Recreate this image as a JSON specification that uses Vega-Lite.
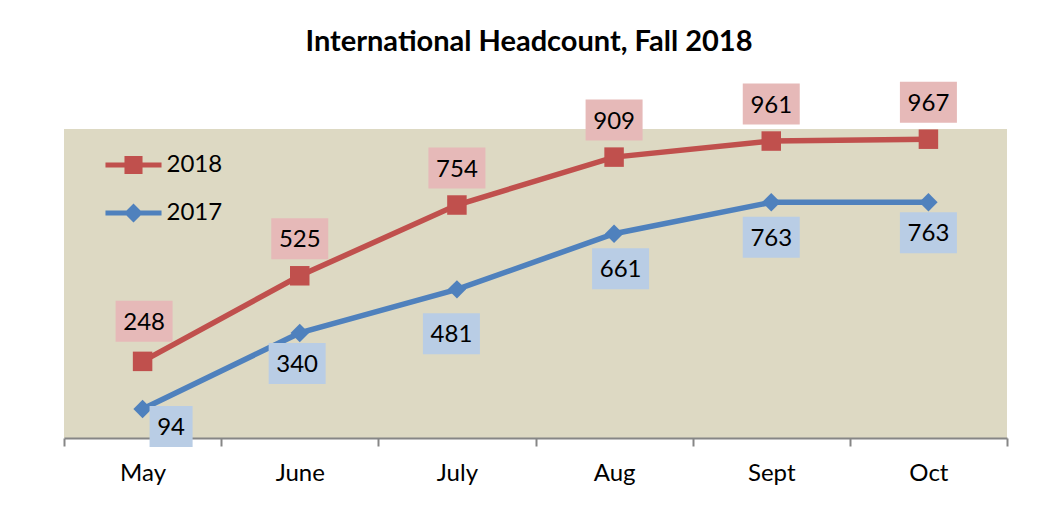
{
  "$schema": "https://vega.github.io/schema/vega-lite/v6.json",
  "width": 943,
  "height": 309,
  "autosize": {"type": "none"},
  "padding": {"left": 64, "top": 129, "right": 46, "bottom": 70},
  "background": "white",
  "config": {"font": "Lato", "view": {"fill": "#DDD9C3", "stroke": null}},
  "title": {
    "text": "International Headcount, Fall 2018",
    "font": "Lato",
    "fontSize": 29,
    "fontWeight": "bold",
    "color": "black",
    "anchor": "middle",
    "frame": "group",
    "baseline": "alphabetic",
    "offset": 2,
    "dx": -6.5
  },
  "data": {
    "values": [
      {"month": "May", "year": "2018", "value": 248},
      {"month": "June", "year": "2018", "value": 525},
      {"month": "July", "year": "2018", "value": 754},
      {"month": "Aug", "year": "2018", "value": 909},
      {"month": "Sept", "year": "2018", "value": 961},
      {"month": "Oct", "year": "2018", "value": 967},
      {"month": "May", "year": "2017", "value": 94},
      {"month": "June", "year": "2017", "value": 340},
      {"month": "July", "year": "2017", "value": 481},
      {"month": "Aug", "year": "2017", "value": 661},
      {"month": "Sept", "year": "2017", "value": 763},
      {"month": "Oct", "year": "2017", "value": 763}
    ]
  },
  "encoding": {
    "x": {
      "field": "month",
      "type": "nominal",
      "sort": ["May", "June", "July", "Aug", "Sept", "Oct"],
      "scale": {"paddingInner": 0, "paddingOuter": 0},
      "axis": {
        "title": null,
        "labelAngle": 0,
        "labelFont": "Lato",
        "labelFontSize": 24,
        "labelColor": "black",
        "domainColor": "#868686",
        "domainWidth": 2,
        "tickColor": "#868686",
        "tickWidth": 2,
        "tickSize": 8,
        "tickBand": "extent",
        "labelBaseline": "alphabetic",
        "labelPadding": 34,
        "grid": false
      }
    },
    "y": {
      "field": "value",
      "type": "quantitative",
      "scale": {"domain": [0, 1000]},
      "axis": null
    }
  },
  "layer": [
    {
      "mark": {"type": "line", "strokeWidth": 5.5},
      "encoding": {
        "color": {
          "field": "year",
          "type": "nominal",
          "scale": {"domain": ["2018", "2017"], "range": ["#C0504D", "#4F81BD"]},
          "legend": {
            "title": null,
            "orient": "none",
            "legendX": 57.5,
            "legendY": 24,
            "direction": "vertical",
            "padding": 0,
            "labelFont": "Lato",
            "labelFontSize": 24,
            "labelColor": "black",
            "labelOffset": 21,
            "rowPadding": 24,
            "symbolSize": 361,
            "encode": {
              "symbols": {
                "update": {
                  "shape": {"signal": "datum.value === '2018' ? 'M-2.95,-0.27H2.95V0.27H-2.95Z M-0.95,-0.95H0.95V0.95H-0.95Z' : 'M-2.95,-0.27H2.95V0.27H-2.95Z M0,-1L1,0L0,1L-1,0Z'"},
                  "fill": {"signal": "datum.value === '2018' ? '#C0504D' : '#4F81BD'"},
                  "stroke": {"value": "transparent"},
                  "strokeWidth": {"value": 0},
                  "size": {"value": 361},
                  "opacity": {"value": 1}
                }
              }
            }
          }
        }
      }
    },
    {
      "mark": {
        "type": "point",
        "filled": true,
        "opacity": 1,
        "color": {"expr": "datum.year === '2018' ? '#C0504D' : '#4F81BD'"},
        "shape": {"expr": "datum.year === '2018' ? 'square' : 'diamond'"},
        "size": {"expr": "datum.year === '2018' ? 380 : 340"}
      }
    },
    {
      "transform": [{"filter": "datum.year === '2018'"}],
      "mark": {
        "type": "point",
        "filled": true,
        "opacity": 1,
        "color": "#E6B9B8",
        "size": 1681,
        "shape": "M-1.39,-1H1.39V1H-1.39Z",
        "xOffset": {"expr": "datum.month === 'May' ? 1.5 : 0"},
        "yOffset": {"expr": "datum.month === 'May' ? -40 : -37"}
      }
    },
    {
      "transform": [{"filter": "datum.year === '2018'"}],
      "mark": {
        "type": "text",
        "font": "Lato",
        "fontSize": 24,
        "color": "black",
        "baseline": "middle",
        "align": "center",
        "xOffset": {"expr": "datum.month === 'May' ? 1.5 : 0"},
        "yOffset": {"expr": "datum.month === 'May' ? -38.5 : -35.5"}
      },
      "encoding": {"text": {"field": "value", "type": "quantitative"}}
    },
    {
      "transform": [{"filter": "datum.year === '2017'"}],
      "mark": {
        "type": "point",
        "filled": true,
        "opacity": 1,
        "color": "#B9CDE5",
        "size": 1681,
        "shape": {"expr": "datum.value < 100 ? 'M-1.05,-1H1.05V1H-1.05Z' : 'M-1.39,-1H1.39V1H-1.39Z'"},
        "xOffset": {"expr": "datum.month === 'May' ? 28.5 : datum.month === 'June' ? -2.6 : datum.month === 'July' ? -5.5 : datum.month === 'Aug' ? 6.5 : 0"},
        "yOffset": {"expr": "datum.month === 'May' ? 17.5 : datum.month === 'June' ? 30.6 : datum.month === 'July' ? 44.5 : datum.month === 'Oct' ? 30.5 : 35"}
      }
    },
    {
      "transform": [{"filter": "datum.year === '2017'"}],
      "mark": {
        "type": "text",
        "font": "Lato",
        "fontSize": 24,
        "color": "black",
        "baseline": "middle",
        "align": "center",
        "xOffset": {"expr": "datum.month === 'May' ? 28.5 : datum.month === 'June' ? -2.6 : datum.month === 'July' ? -5.5 : datum.month === 'Aug' ? 6.5 : 0"},
        "yOffset": {"expr": "datum.month === 'May' ? 19 : datum.month === 'June' ? 32.1 : datum.month === 'July' ? 46 : datum.month === 'Oct' ? 32 : 36.5"}
      },
      "encoding": {"text": {"field": "value", "type": "quantitative"}}
    }
  ]
}
